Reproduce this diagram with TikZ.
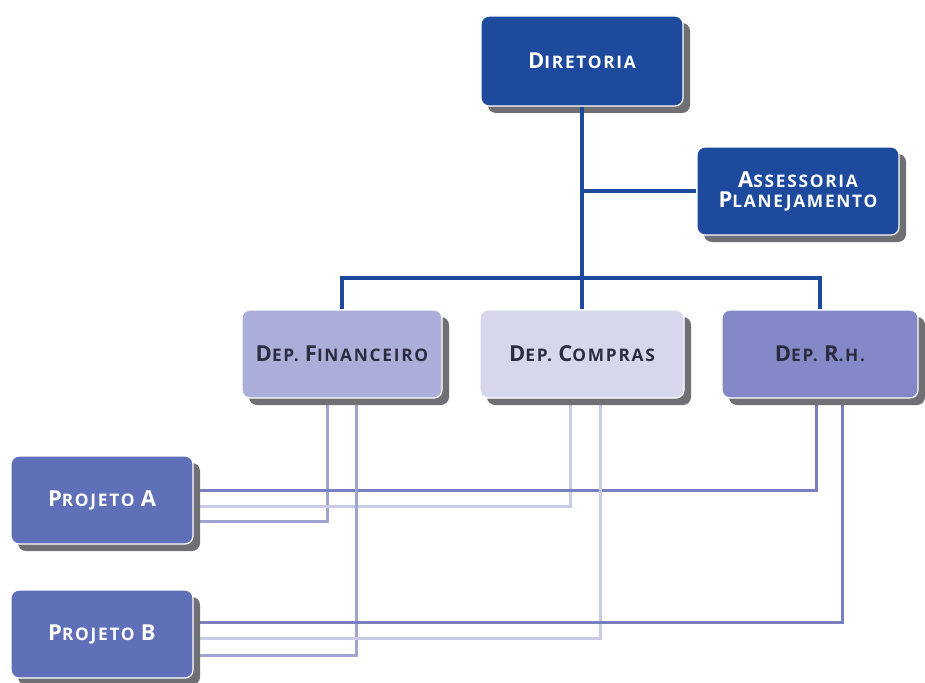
\documentclass[tikz,border=0pt]{standalone}
\usepackage{fontspec}
\setmainfont{Open Sans}
\newfontfamily\boxfont[LetterSpace=10]{Open Sans}
\usetikzlibrary{shadows,backgrounds}

\definecolor{dirblue}{RGB}{29,74,156}
\definecolor{finblue}{RGB}{170,174,217}
\definecolor{comblue}{RGB}{214,215,236}
\definecolor{rhblue}{RGB}{131,137,199}
\definecolor{prjblue}{RGB}{96,112,184}
\definecolor{deptext}{RGB}{44,44,64}
\definecolor{shadowgray}{RGB}{112,112,116}
\definecolor{finlink}{RGB}{160,164,210}
\definecolor{comlink}{RGB}{200,202,230}
\definecolor{rhlink}{RGB}{122,127,192}

\newcommand\smcap[2]{{\fontsize{22}{20}\selectfont #1}{\fontsize{17.3}{20}\selectfont #2}}

\begin{document}
\begin{tikzpicture}[x=1pt,y=-1pt,
  box/.style={rectangle,rounded corners=8pt,draw=white,line width=1.2pt,
    drop shadow={shadow xshift=7pt,shadow yshift=-7pt,fill=shadowgray,opacity=1},
    font=\boxfont\bfseries\fontsize{17.3}{20}\selectfont,align=center,inner sep=0pt,minimum height=88pt},
  topbox/.style={box,fill=dirblue,text=white,minimum width=202pt},
  depbox/.style={box,text=deptext,minimum width=200pt},
  prjbox/.style={box,fill=prjblue,text=white,minimum width=182pt},
  topline/.style={draw=dirblue,line width=3.4pt},
  link/.style={line width=3pt}
]
\useasboundingbox (0,0) rectangle (925,682);

\node[topbox,minimum height=90pt] (dir) at (582,61) {\smcap{D}{IRETORIA}};
\node[topbox] (asr) at (798,191) {\smcap{A}{SSESSORIA}\\\smcap{P}{LANEJAMENTO}};

\node[depbox,fill=finblue] (fin) at (342,354) {\smcap{D}{EP.} \smcap{F}{INANCEIRO}};
\node[depbox,fill=comblue,minimum width=204pt] (com) at (582,354) {\smcap{D}{EP.} \smcap{C}{OMPRAS}};
\node[depbox,fill=rhblue,minimum width=196pt] (rh) at (820,354) {\smcap{D}{EP.} \smcap{R}{.H.}};

\node[prjbox] (pra) at (102,500) {\smcap{P}{ROJETO} \smcap{A}{}};
\node[prjbox] (prb) at (102,634) {\smcap{P}{ROJETO} \smcap{B}{}};

\coordinate (barY) at (0,278);
\draw[topline] (dir.south) -- (com.north);
\draw[topline] (dir.south |- asr.west) -- (asr.west);
\draw[topline] (fin.north) -- (fin.north |- barY) -- (rh.north |- barY) -- (rh.north);

\begin{pgfonlayer}{background}
\draw[link,finlink] ([yshift=-21pt]pra.east) -| ([xshift=-15pt]fin.south);
\draw[link,comlink] ([yshift=-6pt]pra.east) -| ([xshift=-12pt]com.south);
\draw[link,rhlink] ([yshift=10pt]pra.east) -| ([xshift=-4pt]rh.south);
\draw[link,finlink] ([yshift=-21pt]prb.east) -| ([xshift=14pt]fin.south);
\draw[link,comlink] ([yshift=-4pt]prb.east) -| ([xshift=18pt]com.south);
\draw[link,rhlink] ([yshift=12pt]prb.east) -| ([xshift=22pt]rh.south);
\end{pgfonlayer}
\end{tikzpicture}
\end{document}
